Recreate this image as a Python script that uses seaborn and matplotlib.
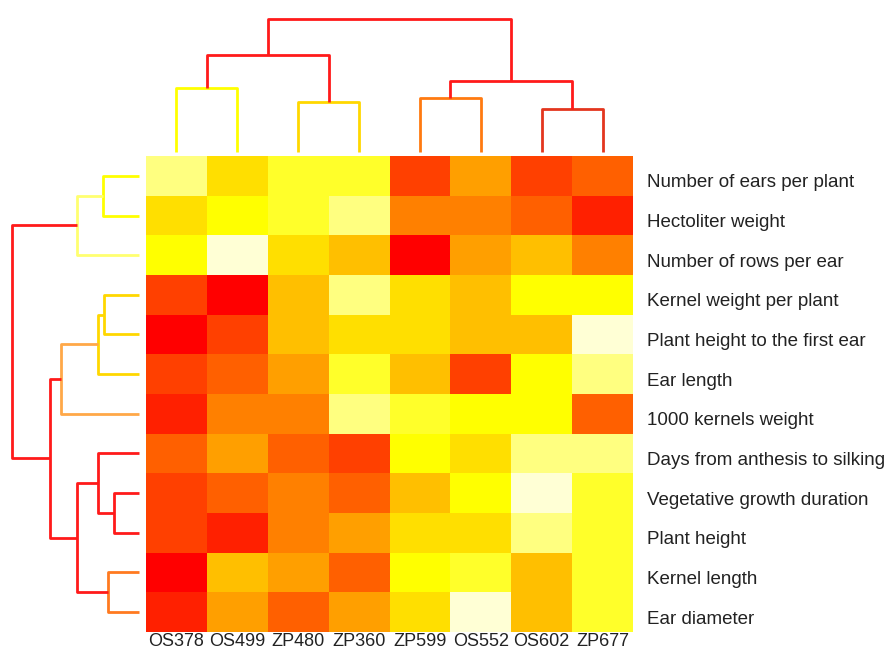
import pandas as pd
import seaborn as sns
import matplotlib.pyplot as plt
from matplotlib.colors import ListedColormap
from matplotlib.transforms import ScaledTranslation

plt.rcParams['font.family'] = ['Liberation Sans', 'DejaVu Sans']

# R heat.colors(12), low = red, high = pale yellow
heat_colors = ["#FF0000", "#FF2000", "#FF4000", "#FF6000", "#FF8000", "#FF9F00",
               "#FFBF00", "#FFDF00", "#FFFF00", "#FFFF2A", "#FFFF80", "#FFFFD5"]

genotypes = ["OS378", "OS499", "ZP480", "ZP360", "ZP599", "OS552", "OS602", "ZP677"]
traits = ["Number of ears per plant", "Hectoliter weight", "Number of rows per ear",
          "Kernel weight per plant", "Plant height to the first ear", "Ear length",
          "1000 kernels weight", "Days from anthesis to silking",
          "Vegetative growth duration", "Plant height", "Kernel length", "Ear diameter"]

# colour level of each cell (index into heat_colors)
levels = [
    [10, 7, 9, 9, 2, 5, 2, 3],
    [7, 8, 9, 10, 4, 4, 3, 1],
    [8, 11, 7, 6, 0, 5, 6, 4],
    [2, 0, 6, 10, 7, 6, 8, 8],
    [0, 2, 6, 7, 7, 6, 6, 11],
    [2, 3, 5, 9, 6, 2, 8, 10],
    [1, 4, 4, 10, 9, 8, 8, 3],
    [3, 5, 3, 2, 8, 7, 10, 10],
    [2, 3, 4, 3, 6, 8, 11, 9],
    [2, 1, 4, 5, 7, 7, 10, 9],
    [0, 6, 5, 3, 8, 9, 6, 9],
    [1, 5, 3, 5, 7, 11, 6, 9],
]

# dendrograms as nested merges: (left, right, height, colour)
col_tree = ((("OS378", "OS499", 63, "#FFFF00"),
             ("ZP480", "ZP360", 49, "#FFD700"), 96, "#FF1A1A"),
            (("ZP599", "OS552", 53, "#FF7A10"),
             ("OS602", "ZP677", 42, "#E3361E"), 70, "#FF1A1A"),
            131, "#FF1A1A")

row_tree = (((("Number of ears per plant", "Hectoliter weight", 36, "#FFFF00"),
              "Number of rows per ear", 62, "#FFFF70"),
             ((((("Kernel weight per plant", "Plant height to the first ear", 35, "#FFD700"),
                 "Ear length", 41, "#FFD700"),
                "1000 kernels weight", 78, "#FFA848"),
               (("Days from anthesis to silking",
                 ("Vegetative growth duration", "Plant height", 25, "#FF1A1A"), 41, "#FF1A1A"),
                ("Kernel length", "Ear diameter", 31, "#FF7A20"), 62, "#FF1A1A"),
               89, "#FF1A1A")),
             127, "#FF1A1A"))


def draw_tree(ax, node, order, top):
    if isinstance(node, str):
        return order.index(node) + 0.5, 0
    left, right, h, color = node
    p1, h1 = draw_tree(ax, left, order, top)
    p2, h2 = draw_tree(ax, right, order, top)
    pos = [p1, p1, p2, p2]
    hts = [h1, h, h, h2]
    if top:
        ax.plot(pos, hts, color=color, lw=2, solid_capstyle='butt')
    else:
        ax.plot(hts, pos, color=color, lw=2, solid_capstyle='butt')
    return (p1 + p2) / 2, h


W, H = 886, 653
fig = plt.figure(figsize=(W / 100, H / 100), dpi=100)

hx0, hx1, hy0, hy1 = 146, 633, 156, 632
ax = fig.add_axes([hx0 / W, 1 - hy1 / H, (hx1 - hx0) / W, (hy1 - hy0) / H])
df = pd.DataFrame(levels, index=traits, columns=genotypes)
sns.heatmap(df, ax=ax, cmap=ListedColormap(heat_colors), vmin=-0.5, vmax=11.5,
            cbar=False, xticklabels=True, yticklabels=True)
ax.yaxis.tick_right()
ax.tick_params(axis='y', length=0, pad=10, labelsize=13.5, labelcolor='#222222')
ax.tick_params(axis='x', length=0, pad=1, labelsize=13, labelcolor='#222222')
plt.setp(ax.get_yticklabels(), rotation=0)
plt.setp(ax.get_xticklabels(), rotation=0)
# row labels sit a little below the row centres in the original
shift = ScaledTranslation(0, -0.05, fig.dpi_scale_trans)
for lab in ax.get_yticklabels():
    lab.set_transform(lab.get_transform() + shift)

# column dendrogram on top
ax_top = fig.add_axes([hx0 / W, 1 - (hy0 - 2) / H, (hx1 - hx0) / W, (hy0 - 2) / H])
ax_top.set_xlim(0, len(genotypes))
ax_top.set_ylim(-2, 149.7)
draw_tree(ax_top, col_tree, genotypes, True)
ax_top.axis('off')

# row dendrogram on the left
ax_left = fig.add_axes([0, 1 - hy1 / H, hx0 / W, (hy1 - hy0) / H])
ax_left.set_ylim(len(traits), 0)
ax_left.set_xlim(139, -7)
draw_tree(ax_left, row_tree, traits, False)
ax_left.axis('off')

fig.savefig('out.png', dpi=100)
